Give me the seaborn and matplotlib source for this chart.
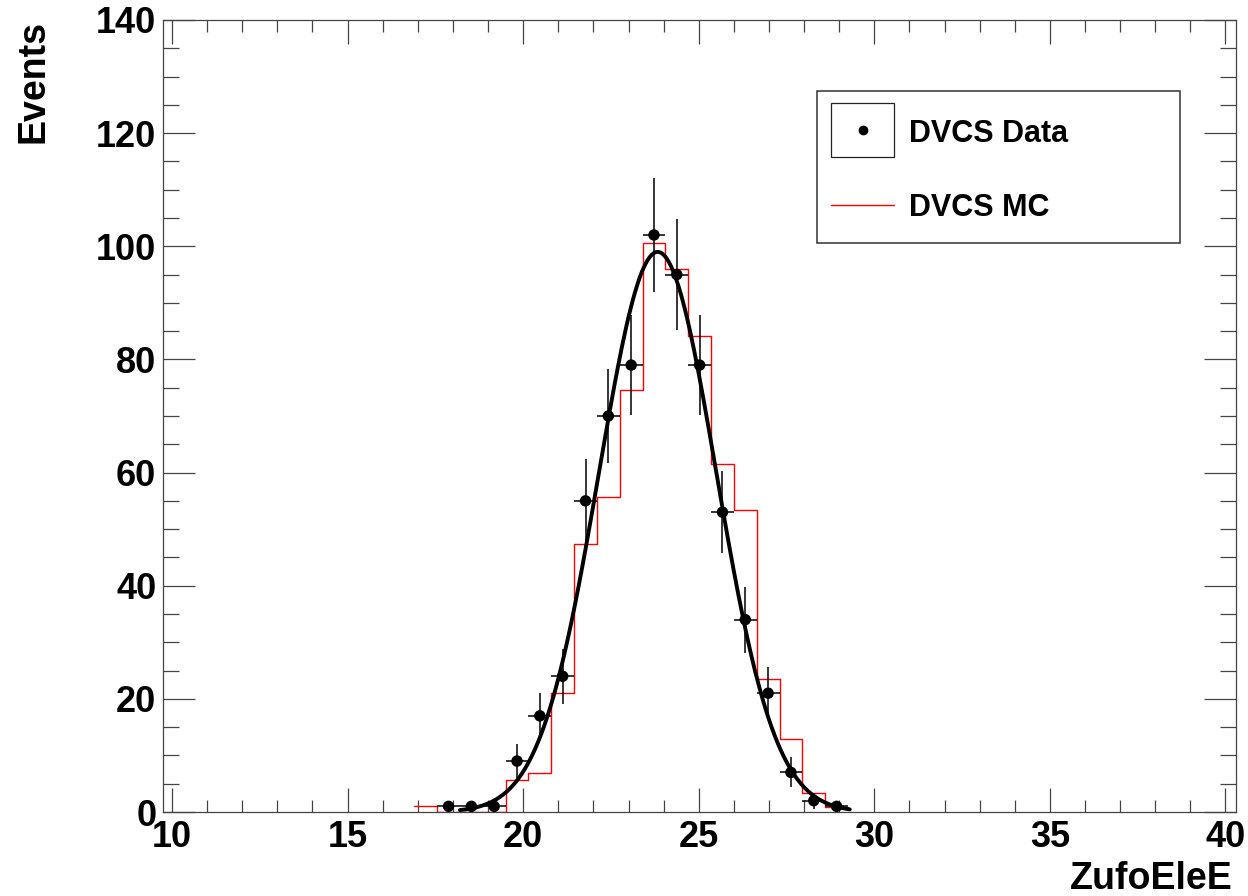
import matplotlib
matplotlib.use("Agg")
import matplotlib.pyplot as plt
from matplotlib.patches import Rectangle
from matplotlib.lines import Line2D
from matplotlib.ticker import MultipleLocator
import numpy as np
import seaborn as sns

# MC histogram (bin width 0.65)
bin_edges = [16.90, 17.55, 18.20, 18.85, 19.50, 20.15, 20.80, 21.45, 22.10, 22.75,
             23.40, 24.05, 24.70, 25.35, 26.00, 26.65, 27.30, 27.95, 28.60, 29.25]
mc_counts = [1.0, 0.0, 0.0, 0.0, 5.7, 6.9, 21.0, 47.3, 55.6, 74.6,
             100.6, 95.9, 84.1, 61.5, 53.3, 23.5, 12.9, 3.4, 0.95]

# data points (bin centres, counts)
data_x = [17.875, 18.525, 19.175, 19.825, 20.475, 21.125, 21.775, 22.425, 23.075,
          23.725, 24.375, 25.025, 25.675, 26.325, 26.975, 27.625, 28.275, 28.925]
data_counts = [1, 1, 1, 9, 17, 24, 55, 70, 79, 102, 95, 79, 53, 34, 21, 7, 2, 1]
bin_half_width = 0.325

# gaussian fit parameters
fit_amp, fit_mean, fit_sigma = 99.0, 23.83, 1.67
fit_lo, fit_hi = 18.2, 29.3

sns.set_theme(style="ticks")
plt.rcParams["font.family"] = ["Liberation Sans", "DejaVu Sans"]
plt.rcParams["font.weight"] = "bold"
plt.rcParams["text.color"] = "black"

fig = plt.figure(figsize=(12.48, 8.96), dpi=100)
ax = fig.add_axes([0.1308, 0.09375, 0.8596, 0.88393])

mc_centers = [(a + b) / 2 for a, b in zip(bin_edges[:-1], bin_edges[1:])]
sns.histplot(x=mc_centers, weights=mc_counts, bins=bin_edges, element="step",
             fill=False, color="#ff0000", linewidth=1.0, ax=ax, zorder=2)

ax.errorbar(data_x, data_counts, xerr=bin_half_width, yerr=np.sqrt(data_counts),
            fmt="none", ecolor="black", elinewidth=1.1, zorder=3)

fit_x = np.linspace(fit_lo, fit_hi, 400)
fit_y = fit_amp * np.exp(-0.5 * ((fit_x - fit_mean) / fit_sigma) ** 2)
sns.lineplot(x=fit_x, y=fit_y, color="black", linewidth=2.8, ax=ax, zorder=4)

sns.scatterplot(x=data_x, y=data_counts, color="black", s=68, edgecolor="none",
                ax=ax, zorder=5)

ax.set_xlim(9.75, 40.3)
ax.set_ylim(0, 140)
ax.set_xlabel(""); ax.set_ylabel("")
ax.xaxis.set_major_locator(MultipleLocator(5))
ax.xaxis.set_minor_locator(MultipleLocator(1))
ax.yaxis.set_major_locator(MultipleLocator(20))
ax.yaxis.set_minor_locator(MultipleLocator(5))

frame = "#444444"
for sp in ax.spines.values():
    sp.set_visible(True); sp.set_color(frame); sp.set_linewidth(0.9)
ax.tick_params(which="both", direction="in", top=True, right=True,
               color=frame, width=0.9, labelcolor="black")
ax.tick_params(axis="x", which="major", length=17, labelsize=26, pad=6)
ax.tick_params(axis="x", which="minor", length=8.5)
ax.tick_params(axis="y", which="major", length=23, labelsize=26, pad=5)
ax.tick_params(axis="y", which="minor", length=11.5)
for lab in ax.get_xticklabels() + ax.get_yticklabels():
    lab.set_fontweight("bold")

# legend drawn by hand, ROOT style
ax.add_patch(Rectangle((0.6097, 0.7181), 0.3381, 0.1923, transform=ax.transAxes,
                       fill=False, ec="#333333", lw=1.1, zorder=6))
ax.add_patch(Rectangle((0.6228, 0.8274), 0.0587, 0.0682, transform=ax.transAxes,
                       fill=False, ec="#222222", lw=0.9, zorder=6))
ax.add_line(Line2D([0.6522], [0.8615], marker="o", color="black", markersize=6,
                   transform=ax.transAxes, zorder=7))
ax.add_line(Line2D([0.6228, 0.6815], [0.7664, 0.7664], color="#ff0000", lw=1.0,
                   transform=ax.transAxes, zorder=7))
ax.text(0.6955, 0.8463, "DVCS Data", transform=ax.transAxes, fontsize=22,
        fontweight="bold", va="baseline", ha="left", color="black")
ax.text(0.6955, 0.7525, "DVCS MC", transform=ax.transAxes, fontsize=22,
        fontweight="bold", va="baseline", ha="left", color="black")

fig.text(0.0347, 0.9777, "Events", rotation=90, rotation_mode="anchor",
         ha="right", va="baseline", fontsize=27, fontweight="bold", color="black")
fig.text(0.988, 0.008, "ZufoEleE", ha="right", va="baseline",
         fontsize=27, fontweight="bold", color="black")

fig.savefig("out.png", dpi=100)
